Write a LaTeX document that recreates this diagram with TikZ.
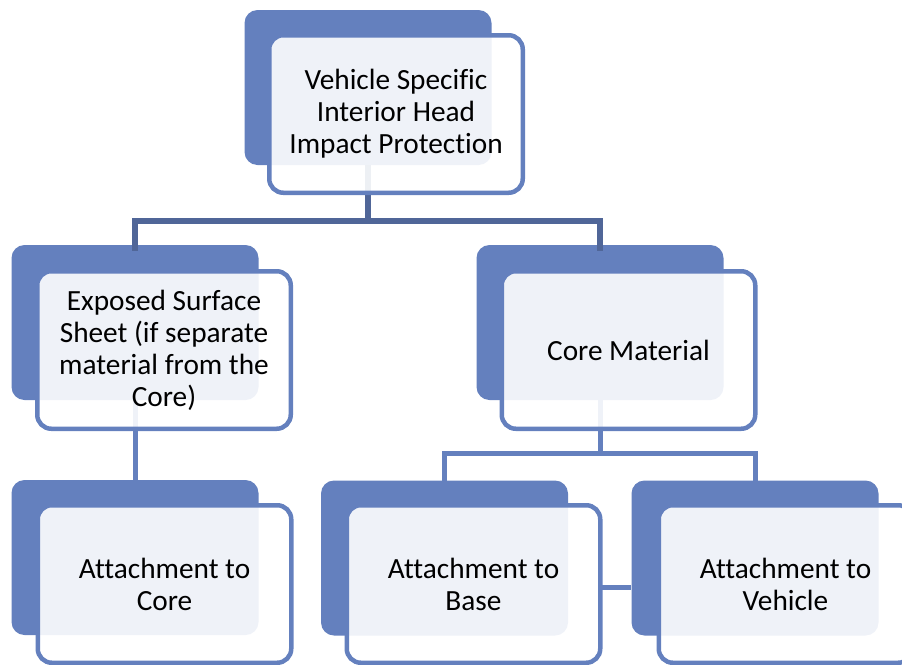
\documentclass[tikz,border=0pt]{standalone}
\usepackage{fontspec}
\setmainfont{Carlito}[Ligatures=NoCommon]
\definecolor{boxblue}{RGB}{100,128,190}
\definecolor{topline}{RGB}{80,102,152}
\tikzset{
  backbox/.style={draw=none, fill=boxblue, rounded corners=13pt, minimum width=247pt, minimum height=155pt, inner sep=0pt},
  frontbox/.style={draw=boxblue, line width=4.5pt, fill=white, fill opacity=0.9, text opacity=1, rounded corners=14pt, minimum width=253.5pt, minimum height=157.5pt, align=center, font=\fontsize{29.3}{32}\selectfont, inner sep=0pt},
  conn/.style={draw=boxblue, line width=5pt},
  topconn/.style={draw=topline, line width=5.5pt},
}
\begin{document}
\begin{tikzpicture}[x=1pt,y=-1pt]
\useasboundingbox (0,0) rectangle (902,664);
\clip (0,0) rectangle (902,664);
% back boxes
\node[backbox] (tb) at (368,87.5) {};
\node[backbox] (eb) at (135,322.5) {};
\node[backbox] (cb) at (600,322.5) {};
\node[backbox] (ab) at (135,557.5) {};
\node[backbox] (bb) at (444.5,558) {};
\node[backbox] (vb) at (755,558) {};
% junctions
\coordinate (jt) at (368,221);
\coordinate (jc) at (600,453);
\coordinate (bvl) at (600,587);
% connectors
\draw[topconn] (tb.south) -- (jt);
\draw[topconn] ([yshift=-6pt]eb.north) |- (jt) -| ([yshift=-6pt]cb.north);
\draw[conn] (cb.south) -- (jc);
\draw[conn] ([yshift=-7pt]bb.north) |- (jc) -| ([yshift=-7pt]vb.north);
\draw[conn] (eb.south) -- ([yshift=-6pt]ab.north);
\draw[conn] (bvl) -- (bvl -| vb.west);
% front boxes
\node[frontbox] (tf) at (396,114) {Vehicle Specific\\Interior Head\\Impact Protection};
\node[frontbox] (ef) at (164,350) {Exposed Surface\\Sheet (if separate\\material from the\\Core)};
\node[frontbox] (cf) at (628.5,350) {Core Material};
\node[frontbox] (af) at (164.5,584) {Attachment to\\Core};
\node[frontbox] (bf) at (473.5,584) {Attachment to\\Base};
\node[frontbox] (vf) at (785.5,584) {Attachment to\\Vehicle};
\end{tikzpicture}
\end{document}
